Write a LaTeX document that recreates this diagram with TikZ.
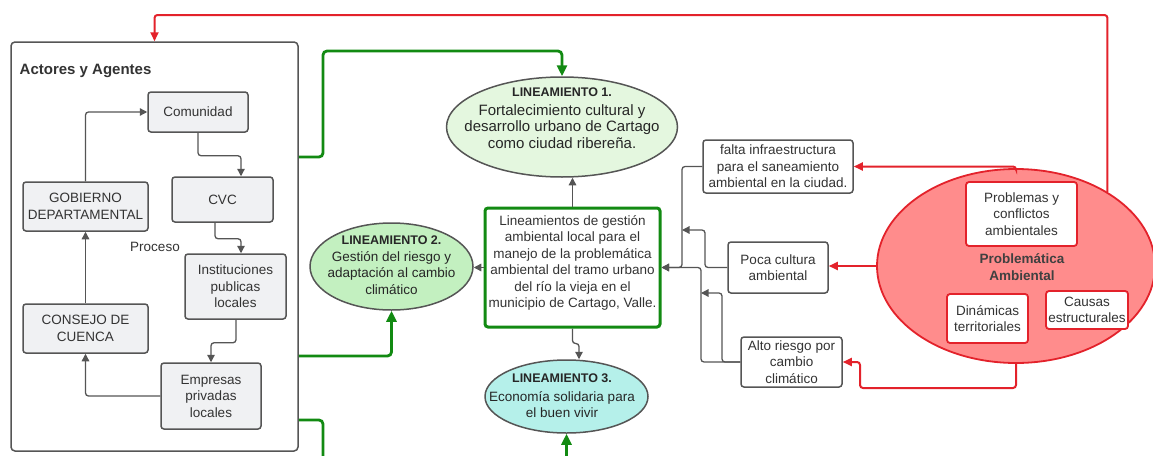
\documentclass[tikz,border=0pt]{standalone}
\usepackage{fontspec}
\setmainfont{Liberation Sans}
\usetikzlibrary{shapes.geometric,arrows.meta}
\definecolor{lg}{HTML}{555555}
\definecolor{boxfill}{HTML}{F0F1F3}
\definecolor{gr}{HTML}{128A12}
\definecolor{rd}{HTML}{E3222B}
\definecolor{pfill}{HTML}{FF8C8C}
\definecolor{lonefill}{HTML}{E4F7DF}
\definecolor{ltwofill}{HTML}{C3F0C0}
\definecolor{lthreefill}{HTML}{B5F0EA}
\definecolor{txt}{HTML}{333333}
\newcommand{\lintitle}{\bfseries\fontsize{12.5}{15}\selectfont}
\newcommand{\linbig}{\fontsize{15}{20}\selectfont}
\begin{document}
\begin{tikzpicture}[x=1pt,y=-1pt,
  body/.style={font=\fontsize{13.5}{16.5}\selectfont, text=txt, align=center, inner sep=0pt},
  gbox/.style={body, draw=lg, line width=1.5pt, fill=boxfill, rounded corners=3pt},
  wbox/.style={body, draw=lg, line width=1.5pt, fill=white, rounded corners=3pt},
  rbox/.style={body, draw=rd, line width=1.8pt, fill=white, rounded corners=3pt},
  ell/.style={ellipse, draw=lg, line width=1.5pt, inner sep=0pt},
  garr/.style={draw=lg, line width=1.3pt, rounded corners=3pt, -{Triangle[length=7.5pt,width=7.5pt]}},
  grarr/.style={draw=gr, line width=2.8pt, rounded corners=4pt, -{Triangle[length=11pt,width=10pt]}},
  rarr/.style={draw=rd, line width=2pt, rounded corners=3pt, -{Triangle[length=9pt,width=8pt]}}
]
\useasboundingbox (0,0) rectangle (1153,455);

% Actores y Agentes container
\node[draw=lg, line width=1.5pt, fill=white, rounded corners=4pt, minimum width=287pt, minimum height=409pt, inner sep=0pt] (actores) at (154.5,246.5) {};
\node[anchor=west, font=\bfseries\fontsize{15}{18}\selectfont, text=txt, inner sep=0pt] (acttitle) at (19.5,71) {Actores y Agentes};

\node[gbox, minimum width=100pt, minimum height=40pt] (com) at (198,112) {Comunidad};
\node[gbox, minimum width=101pt, minimum height=45pt] (cvc) at (222.5,199.5) {CVC};
\node[gbox, minimum width=125pt, minimum height=49pt] (gob) at (85.5,206.5) {GOBIERNO\\DEPARTAMENTAL};
\node[gbox, minimum width=101pt, minimum height=65pt] (inst) at (235.5,286.5) {Instituciones\\publicas\\locales};
\node[gbox, minimum width=125pt, minimum height=49pt] (cons) at (85.5,328.5) {CONSEJO DE\\CUENCA};
\node[gbox, minimum width=100pt, minimum height=66pt] (emp) at (211,396) {Empresas\\privadas\\locales};
\node[body] (proc) at (155,247) {Proceso};

\draw[garr] (com.south) -- ++(0,23) -| ([xshift=18.5pt]cvc.north);
\draw[garr] ([xshift=-7.5pt]cvc.south) -- ++(0,16) -| ([xshift=5.5pt]inst.north);
\draw[garr] ([xshift=0.5pt]inst.south) -- ++(0,23) -| (emp.north);
\draw[garr] (emp.west) -| (cons.south);
\draw[garr] (cons.north) -- (gob.south);
\draw[garr] (gob.north) |- (com.west);

% Lineamientos
\node[ell, fill=lonefill, minimum width=231pt, minimum height=100pt] (lone) at (562,127) {};
\node[body, text=black!85] (lonetext) at (562,118) {{\lintitle LINEAMIENTO 1.}\\[2pt]\linbig Fortalecimiento cultural y\\\linbig desarrollo urbano de Cartago\\\linbig como ciudad ribereña.};
\node[ell, fill=ltwofill, minimum width=163pt, minimum height=87pt] (ltwo) at (391.5,266.5) {};
\node[body, text=black!85] (ltwotext) at (391.5,265) {{\lintitle LINEAMIENTO 2.}\\Gestión del riesgo y\\adaptación al cambio\\climático};
\node[ell, fill=lthreefill, minimum width=163pt, minimum height=73pt] (lthree) at (566.5,396.5) {};
\node[body, text=black!85] (lthreetext) at (562,396) {{\lintitle LINEAMIENTO 3.}\\[2pt]Economía solidaria para\\el buen vivir};

\node[body, draw=gr, line width=3pt, fill=white, rounded corners=3pt, minimum width=175pt, minimum height=119pt] (ctr) at (572.5,267.5) {};
\node[body] (ctrtext) at (572.5,263) {Lineamientos de gestión\\ambiental local para el\\manejo de la problemática\\ambiental del tramo urbano\\del río la vieja en el\\municipio de Cartago, Valle.};

\draw[garr] (ctr.west) -- (ltwo.east |- ctr.west);
\draw[garr] (ctr.north) -- (lone.south -| ctr.north);
\draw[garr] (ctr.south) -- ++(0,15) -| ([xshift=12.5pt]lthree.north);

% green connectors
\draw[grarr] (actores.east |- 0,157) -- (323,157) |- (lone.north |- 0,51) -- (lone.north);
\draw[grarr] (actores.east |- 0,356) -| (ltwo.south);
\draw[grarr] (actores.east |- 0,420) -| (323,475) -| (lthree.south);

% right-hand problem boxes
\node[wbox, minimum width=150pt, minimum height=53pt] (falta) at (778,166.5) {falta infraestructura\\para el saneamiento\\ambiental en la ciudad.};
\node[wbox, minimum width=100pt, minimum height=51pt] (poca) at (778,267.5) {Poca cultura\\ambiental};
\node[wbox, minimum width=101pt, minimum height=50pt] (alto) at (791.5,362) {Alto riesgo por\\cambio\\climático};

\draw[garr] (falta.west) -- (682,166.5) -- (682,267.5) -- (ctr.east);
\draw[garr] (poca.west) -- (705,267.5) -- (705,230) -- (682,230);
\draw[garr] (alto.west) -- (701,362) -- (701,267.5) -- (ctr.east);
\draw[garr] (alto.west) -- (722,362) -- (722,293) -- (701,293);

% Problematica ambiental
\node[ellipse, draw=rd, line width=1.8pt, fill=pfill, inner sep=0pt, minimum width=278pt, minimum height=194pt] (prob) at (1016,266) {};
\node[rbox, minimum width=111pt, minimum height=64pt] (probl) at (1021.5,214) {Problemas y\\conflictos\\ambientales};
\node[rbox, minimum width=81pt, minimum height=49pt] (dina) at (987.5,318.5) {Dinámicas\\territoriales};
\node[rbox, minimum width=82pt, minimum height=38pt] (causas) at (1087,310) {Causas\\estructurales};
\node[body, font=\bfseries\fontsize{13.5}{17}\selectfont, text=black!75] (probtext) at (1022,267.5) {Problemática\\Ambiental};

\draw[rarr] (prob.north) |- (falta.east);
\draw[rarr] (prob.west) -- (poca.east |- prob.west);
\draw[rarr] (prob.south) -- (prob.south |- 0,388) -- (860,388) |- (alto.east);
\draw[rarr] (prob.39) -- (prob.39 |- 0,15) -| (actores.north);
\end{tikzpicture}
\end{document}
